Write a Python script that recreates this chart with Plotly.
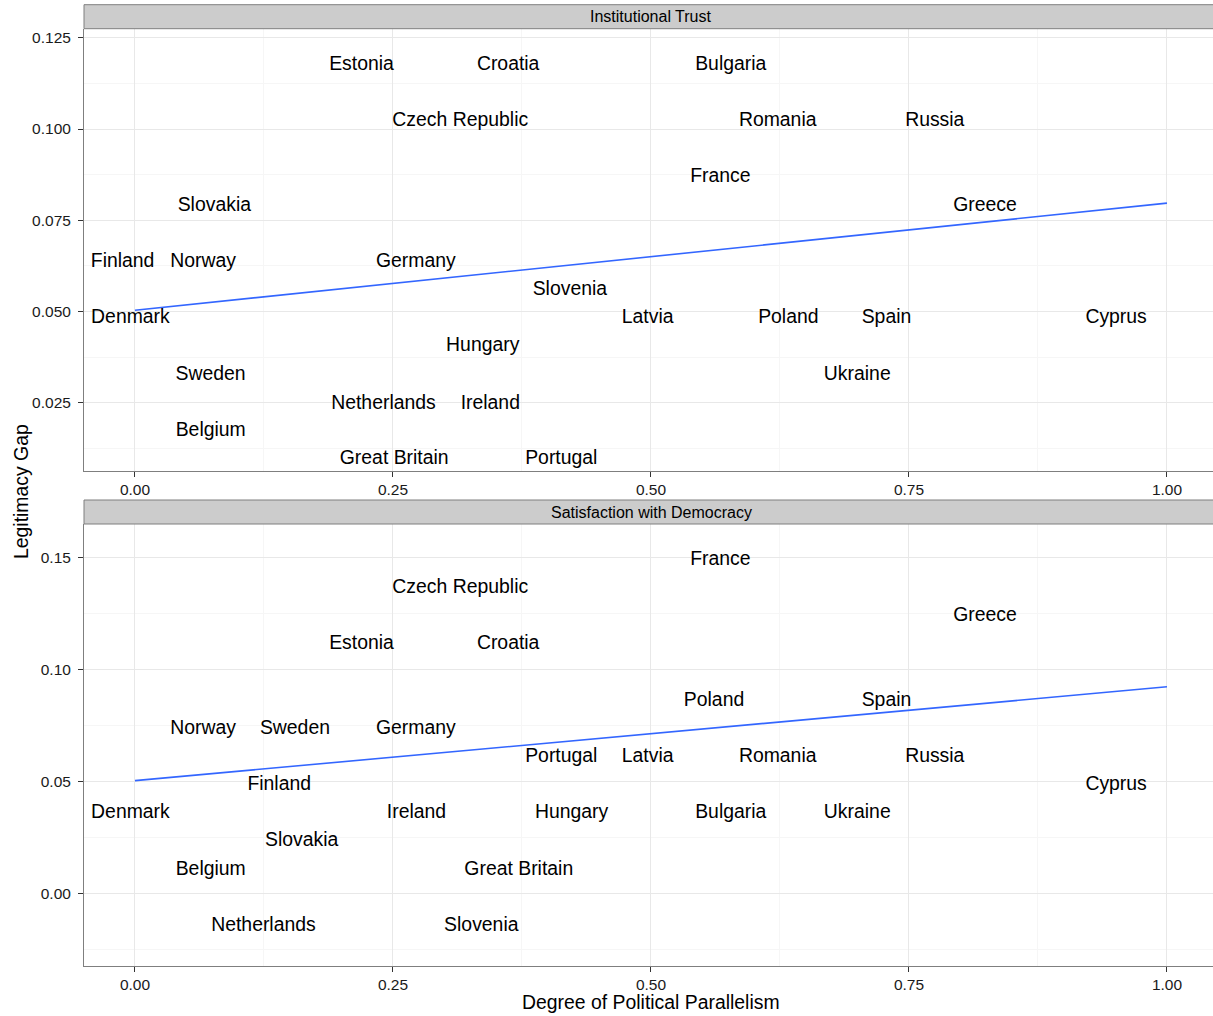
import plotly.graph_objects as go

# Country labels, shared by both facets
countries = ["Belgium", "Bulgaria", "Croatia", "Cyprus", "Czech Republic", "Denmark",
             "Estonia", "Finland", "France", "Germany", "Great Britain", "Greece",
             "Hungary", "Ireland", "Latvia", "Netherlands", "Norway", "Poland",
             "Portugal", "Romania", "Russia", "Slovakia", "Slovenia", "Spain",
             "Sweden", "Ukraine"]

# Facet 1: Institutional Trust
trust_x = [0.0734, 0.5773, 0.3616, 0.9507, 0.3152, -0.0044, 0.2195, -0.0120, 0.5673,
           0.2721, 0.2512, 0.8237, 0.3370, 0.3443, 0.4968, 0.2408, 0.0661, 0.6331,
           0.4131, 0.6228, 0.7750, 0.0769, 0.4214, 0.7282, 0.0732, 0.6999]
trust_gap = [0.0173, 0.1174, 0.1174, 0.0483, 0.1022, 0.0483, 0.1174, 0.0636, 0.0868,
             0.0636, 0.0096, 0.0789, 0.0406, 0.0248, 0.0483, 0.0248, 0.0636, 0.0483,
             0.0096, 0.1022, 0.1022, 0.0789, 0.0559, 0.0483, 0.0326, 0.0326]

# Facet 2: Satisfaction with Democracy
sat_x = [0.0734, 0.5773, 0.3616, 0.9507, 0.3152, -0.0044, 0.2195, 0.1398, 0.5673,
         0.2721, 0.3719, 0.8237, 0.4231, 0.2728, 0.4968, 0.1245, 0.0661, 0.5611,
         0.4131, 0.6228, 0.7750, 0.1616, 0.3356, 0.7282, 0.1550, 0.6999]
sat_gap = [0.0105, 0.0356, 0.1112, 0.0481, 0.1362, 0.0358, 0.1112, 0.0483, 0.1487,
           0.0733, 0.0105, 0.1237, 0.0358, 0.0358, 0.0607, -0.0147, 0.0733, 0.0858,
           0.0607, 0.0608, 0.0608, 0.0233, -0.0147, 0.0858, 0.0733, 0.0356]

# Linear fits (endpoints over the parallelism range)
fit_x = [0.0, 1.0]
trust_fit = [0.0504, 0.0797]
sat_fit = [0.0503, 0.0922]

facet_titles = ["Institutional Trust", "Satisfaction with Democracy"]
x_ticks = [0.0, 0.25, 0.5, 0.75, 1.0]
trust_ticks = [0.025, 0.050, 0.075, 0.100, 0.125]
sat_ticks = [0.00, 0.05, 0.10, 0.15]

W, H = 1213, 1016
FONT = "Liberation Sans, Arial, Helvetica, sans-serif"
LABEL_SIZE = 19.4
TICK_SIZE = 15.5
STRIP_SIZE = 16
BORDER = "#7f7f7f"
GRID = "#e8e8e8"
GRID_MINOR = "#f6f6f6"
LINE_BLUE = "#3366ff"

def py(px):
    """Convert a pixel row (from top) to paper coordinates."""
    return (H - px) / H

x_left = 84 / W
panels = [
    dict(top=28.7, bottom=470.7, strip_top=4.7),
    dict(top=524.0, bottom=965.7, strip_top=500.0),
]

fig = go.Figure()

series = [(trust_x, trust_gap, trust_fit, "x", "y"),
          (sat_x, sat_gap, sat_fit, "x2", "y2")]
for xs, ys, fit, xa, ya in series:
    fig.add_trace(go.Scatter(
        x=fit_x, y=fit, mode="lines", xaxis=xa, yaxis=ya,
        line=dict(color=LINE_BLUE, width=1.6), hoverinfo="skip", showlegend=False))
    fig.add_trace(go.Scatter(
        x=xs, y=ys, text=countries, mode="text", xaxis=xa, yaxis=ya,
        textposition="middle center",
        textfont=dict(family=FONT, size=LABEL_SIZE, color="black"),
        showlegend=False))

def x_axis(anchor):
    return dict(
        domain=[x_left, 1.0], anchor=anchor, range=[-0.0494, 1.0446],
        tickvals=x_ticks, tickformat=".2f", ticks="outside", ticklen=5,
        tickwidth=1, tickcolor="#333333",
        tickfont=dict(family=FONT, size=TICK_SIZE, color="#1a1a1a"),
        showgrid=True, gridcolor=GRID, gridwidth=1,
        minor=dict(tick0=0.125, dtick=0.25, showgrid=True, gridcolor=GRID_MINOR,
                   gridwidth=1, ticklen=0),
        showline=True, linecolor=BORDER, linewidth=1, zeroline=False,
    )

def y_axis(anchor, p, rng, ticks, fmt, minor0, minordt):
    return dict(
        domain=[py(p["bottom"]), py(p["top"])], anchor=anchor, range=rng,
        tickvals=ticks, tickformat=fmt, ticks="outside", ticklen=5,
        tickwidth=1, tickcolor="#333333", ticklabelstandoff=4,
        tickfont=dict(family=FONT, size=TICK_SIZE, color="#1a1a1a"),
        showgrid=True, gridcolor=GRID, gridwidth=1,
        minor=dict(tick0=minor0, dtick=minordt, showgrid=True, gridcolor=GRID_MINOR,
                   gridwidth=1, ticklen=0),
        showline=True, linecolor=BORDER, linewidth=1, zeroline=False,
    )

shapes = []
annotations = []
for p, title in zip(panels, facet_titles):
    shapes.append(dict(type="rect", xref="paper", yref="paper",
                       x0=x_left, x1=1.01, y0=py(p["top"]), y1=py(p["strip_top"]),
                       fillcolor="#cccccc", line=dict(color=BORDER, width=1),
                       layer="above"))
    annotations.append(dict(text=title, xref="paper", yref="paper",
                            x=(84 + 1218) / 2 / W, y=py((p["top"] + p["strip_top"]) / 2),
                            xanchor="center", yanchor="middle", showarrow=False,
                            font=dict(family=FONT, size=STRIP_SIZE, color="black")))

annotations.append(dict(text="Degree of Political Parallelism", xref="paper", yref="paper",
                        x=(84 + 1218) / 2 / W, y=py(1002), xanchor="center",
                        yanchor="middle", showarrow=False,
                        font=dict(family=FONT, size=LABEL_SIZE, color="black")))
annotations.append(dict(text="Legitimacy Gap", xref="paper", yref="paper",
                        x=21 / W, y=py(492), xanchor="center", yanchor="middle",
                        textangle=-90, showarrow=False,
                        font=dict(family=FONT, size=LABEL_SIZE, color="black")))

fig.update_layout(
    width=W, height=H,
    margin=dict(l=0, r=0, t=0, b=0),
    paper_bgcolor="white", plot_bgcolor="white",
    xaxis=x_axis("y"),
    xaxis2=x_axis("y2"),
    yaxis=y_axis("x", panels[0], [0.00646, 0.12746], trust_ticks, ".3f", 0.0125, 0.025),
    yaxis2=y_axis("x2", panels[1], [-0.03232, 0.16487], sat_ticks, ".2f", -0.025, 0.05),
    shapes=shapes,
    annotations=annotations,
    showlegend=False,
    font=dict(family=FONT),
)

fig.write_html("out.html")
